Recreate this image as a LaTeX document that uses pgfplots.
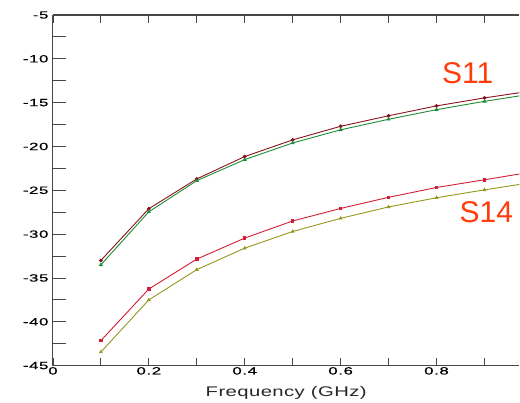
\documentclass[border=0pt]{standalone}
\usepackage{fontspec}
\usepackage{pgfplots}
\pgfplotsset{compat=1.18}
\setmainfont{Liberation Sans}
\newfontfamily\tickfont[FakeStretch=1.6,LetterSpace=6,FakeBold=0.6]{Liberation Sans}
\newfontfamily\labfont[FakeStretch=1.45,LetterSpace=3]{Liberation Sans}
\definecolor{sdark}{RGB}{135,20,30}
\definecolor{sgreen}{RGB}{30,140,50}
\definecolor{sred}{RGB}{210,30,50}
\definecolor{solive}{RGB}{150,150,30}
\definecolor{lblcol}{RGB}{255,60,10}
\definecolor{axgray}{RGB}{70,70,70}

\begin{document}
\begin{tikzpicture}
\begin{axis}[
  scale only axis,
  width=467pt, height=351pt,
  xmin=0, xmax=0.973, ymin=-45, ymax=-5,
  axis y line*=left,
  axis line style={axgray, line width=1.1pt},
  tick align=inside,
  major tick length=13pt, minor tick length=13pt,
  xtick style={/pgfplots/major tick length=8pt},
  tick style={axgray, line width=0.8pt},
  xtick={0,0.1,0.2,0.3,0.4,0.5,0.6,0.7,0.8,0.9},
  xticklabels={0,,0.2,,0.4,,0.6,,0.8,},
  ytick={-45,-40,-35,-30,-25,-20,-15,-10,-5},
  yticklabels={-45,-40,-35,-30,-25,-20,-15,-10,-5},
  minor y tick num=1,
  ticklabel style={font=\tickfont\fontsize{10.5}{12}\selectfont},
  xticklabel style={yshift=2pt},
  yticklabel style={xshift=-1pt},
  xlabel={Frequency (GHz)},
  xlabel style={font=\labfont\fontsize{14}{16}\selectfont, text=black!85, at={(rel axis cs:0.5,0)}, anchor=center, yshift=-27pt},
  every axis plot/.append style={line width=0.9pt},
  clip=true,
]
% S11, upper pair
\addplot[sdark, mark=*, mark size=1.4pt] coordinates {
 (0.1,-33.0) (0.2,-27.1) (0.3,-23.7) (0.4,-21.15) (0.5,-19.25)
 (0.6,-17.7) (0.7,-16.5) (0.8,-15.37) (0.9,-14.46) (1.0,-13.65)};
\addplot[sgreen, mark=triangle*, mark size=1.5pt] coordinates {
 (0.1,-33.5) (0.2,-27.45) (0.3,-23.9) (0.4,-21.5) (0.5,-19.6)
 (0.6,-18.1) (0.7,-16.9) (0.8,-15.8) (0.9,-14.85) (1.0,-14.0)};
% S14, lower pair
\addplot[sred, mark=square*, mark size=1.2pt] coordinates {
 (0.1,-42.15) (0.2,-36.26) (0.3,-32.85) (0.4,-30.45) (0.5,-28.5)
 (0.6,-27.07) (0.7,-25.8) (0.8,-24.68) (0.9,-23.8) (1.0,-22.9)};
\addplot[solive, mark=triangle*, mark size=1.4pt] coordinates {
 (0.1,-43.45) (0.2,-37.5) (0.3,-34.05) (0.4,-31.6) (0.5,-29.7)
 (0.6,-28.2) (0.7,-26.9) (0.8,-25.85) (0.9,-24.95) (1.0,-24.1)};
\node[lblcol, font=\fontsize{30}{32}\selectfont] at (axis cs:0.865,-11.6) {S11};
\node[lblcol, font=\fontsize{30}{32}\selectfont] at (axis cs:0.904,-27.45) {S14};
\end{axis}
\path[use as bounding box] (-53pt,-36pt) rectangle (467pt,366pt);
\end{tikzpicture}
\end{document}
